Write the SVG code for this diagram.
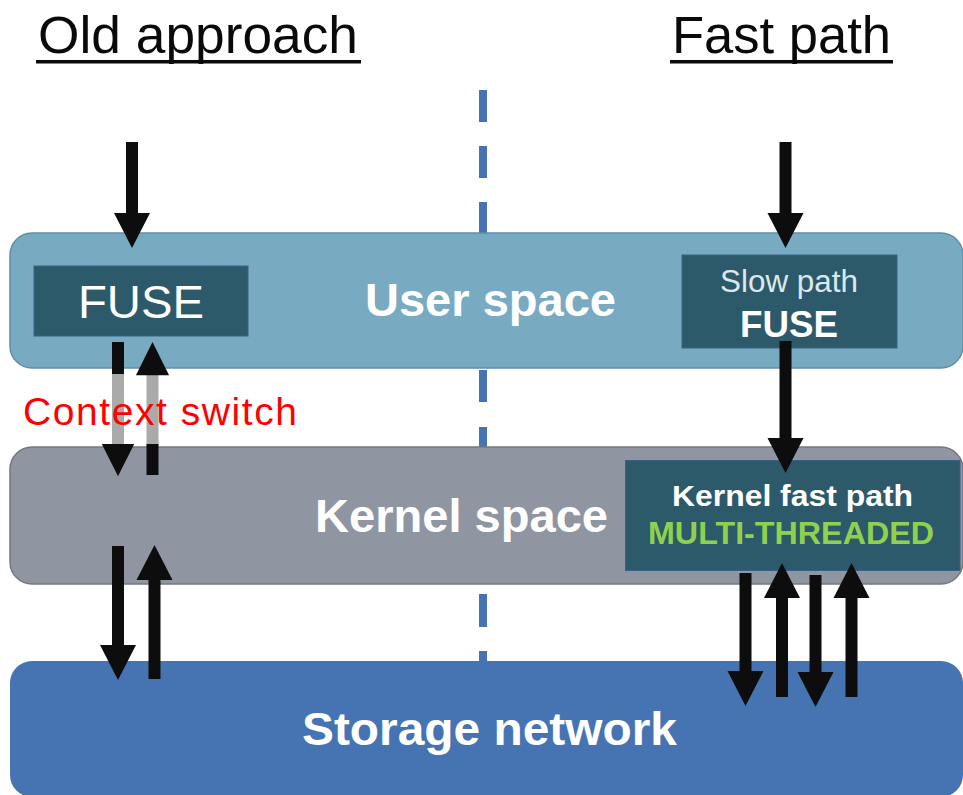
<svg xmlns="http://www.w3.org/2000/svg" width="963" height="795" viewBox="0 0 963 795">
<style>
text{font-family:"Liberation Sans",Arial,sans-serif}
.w{fill:#fff;font-weight:bold;font-size:46px}
.t{fill:#0a0a0a;font-size:51px}
.box{fill:#2d5a6a;stroke:#3a6088;stroke-width:1}
.c{stroke:#0d0d0d;stroke-width:12;fill:none}
.g{stroke:#aaa;stroke-width:12;fill:none}
.band{stroke-width:1.5}
</style>
<defs>
<polygon id="dn" points="-18,0 18,0 0,35" fill="#0d0d0d"/>
<polygon id="up" points="-18,35 18,35 0,0" fill="#0d0d0d"/>
</defs>
<rect width="963" height="795" fill="#fff"/>
<g id="title-old"><text class="t" x="38" y="53" textLength="320" lengthAdjust="spacingAndGlyphs">Old approach</text><rect x="36" y="60" width="325" height="3.5" fill="#0a0a0a"/></g>
<g id="title-fast"><text class="t" x="672" y="53" textLength="219" lengthAdjust="spacingAndGlyphs">Fast path</text><rect x="670" y="60" width="223" height="3.5" fill="#0a0a0a"/></g>
<g id="divider"><path d="M483 90V122M483 146V178M483 202V233M483 370V402M483 427V447M483 594V627M483 651V662" stroke="#4674b3" stroke-width="8" fill="none"/></g>
<g id="user-space"><rect class="band" x="10" y="233" width="953" height="135" rx="22" fill="#78abc2" stroke="#5f8ea5"/><text class="w" x="365" y="316" textLength="251" lengthAdjust="spacingAndGlyphs">User space</text></g>
<g id="kernel-space"><rect class="band" x="10" y="447" width="953" height="137" rx="22" fill="#9095a2" stroke="#74787f"/><text class="w" x="315" y="532" textLength="293" lengthAdjust="spacingAndGlyphs">Kernel space</text></g>
<g id="storage"><rect x="10" y="661" width="953" height="136" rx="22" fill="#4674b3"/><text class="w" x="302" y="745" textLength="375" lengthAdjust="spacingAndGlyphs">Storage network</text></g>
<g id="fuse"><rect class="box" x="34" y="266" width="214" height="70"/><text x="78" y="318" font-size="46" fill="#fff" textLength="126" lengthAdjust="spacingAndGlyphs">FUSE</text></g>
<g id="slow-path"><rect class="box" x="682" y="255" width="215" height="93"/><text x="720" y="292" font-size="31" fill="#dce8ec" textLength="138" lengthAdjust="spacingAndGlyphs">Slow path</text><text x="740" y="337" font-size="37" font-weight="bold" fill="#fff" textLength="98" lengthAdjust="spacingAndGlyphs">FUSE</text></g>
<g id="kernel-fast-path"><rect class="box" x="625.5" y="460.5" width="334.5" height="110"/><text x="672" y="506" font-size="30" font-weight="bold" fill="#fff" textLength="241" lengthAdjust="spacingAndGlyphs">Kernel fast path</text><text x="648" y="544" font-size="32" font-weight="bold" fill="#8fd14f" textLength="286" lengthAdjust="spacingAndGlyphs">MULTI-THREADED</text></g>
<g id="connectors">
<path class="g" d="M118 374V446"/><path class="g" d="M152.500 374V446"/>
<path class="c" d="M132 142V214"/><use href="#dn" x="132" y="213"/>
<path class="c" d="M118 342V374"/><use href="#dn" x="118" y="444" transform="translate(118 444) scale(.9 .92) translate(-118 -444)"/>
<path class="c" d="M152.500 475V444"/><use href="#up" x="152.500" y="342" transform="translate(152.500 342) scale(.92 .95) translate(-152.500 -342)"/>
<path class="c" d="M118 546V646"/><use href="#dn" x="118" y="645"/>
<path class="c" d="M154.500 679V580"/><use href="#up" x="154.500" y="545"/>
<path class="c" d="M785.500 142V214"/><use href="#dn" x="785.500" y="213"/>
<path class="c" d="M785.500 341V440"/><use href="#dn" x="785.500" y="438"/>
<path class="c" d="M745.500 573V672"/><use href="#dn" x="745.500" y="671"/>
<path class="c" d="M782 697V598"/><use href="#up" x="782" y="563"/>
<path class="c" d="M815.500 575V673"/><use href="#dn" x="815.500" y="672"/>
<path class="c" d="M851.500 697V598"/><use href="#up" x="851.500" y="563"/>
</g>
<text x="23" y="425" font-size="39" fill="#f00" textLength="274" lengthAdjust="spacing">Context switch</text>
</svg>
